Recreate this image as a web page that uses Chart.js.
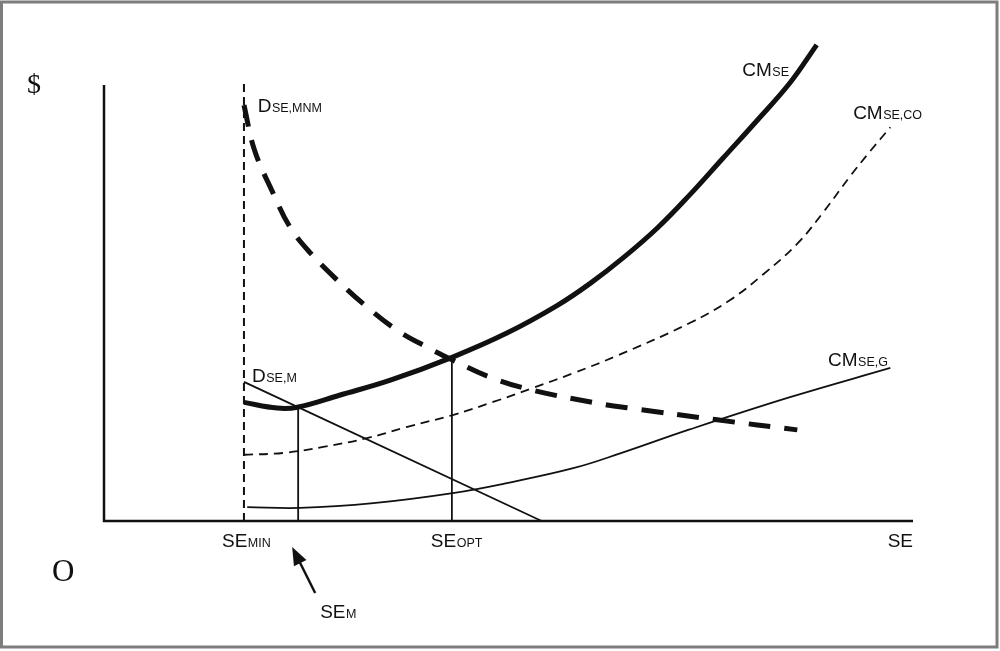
<!DOCTYPE html>
<html>
<head>
<meta charset="utf-8">
<script src="https://cdn.jsdelivr.net/npm/chart.js@4.4.1/dist/chart.umd.min.js"></script>
<style>
html, body { margin: 0; padding: 0; background: #fff; }
</style>
</head>
<body>
<canvas id="myChart" width="1000" height="651"></canvas>
<script>
// curves, x and y in 0..100 axis units
const cmSeX = [17.3, 21.4, 23.9, 29.2, 35.4, 43.1, 49.8, 56.0, 60.1, 64.2, 68.4, 72.4, 76.5, 80.7, 84.8, 88.1];
const cmSeY = [27.2, 25.9, 26.1, 28.9, 32.3, 37.6, 43.1, 49.4, 54.5, 60.4, 67.2, 74.8, 83.2, 91.8, 100.5, 109.2];

const cmCoX = [17.3, 22.1, 27.1, 32.5, 37.5, 43.1, 48.1, 53.0, 58.0, 63.4, 72.4, 77.4, 81.5, 85.7, 88.9, 92.2, 94.7, 97.2];
const cmCoY = [15.2, 15.6, 17.0, 19.0, 21.6, 24.3, 27.3, 30.5, 33.9, 37.9, 45.4, 50.7, 56.6, 63.6, 70.8, 79.0, 84.8, 90.3];

const cmGX = [17.7, 24.2, 33.3, 43.1, 49.8, 58.0, 63.8, 72.4, 84.8, 97.2];
const cmGY = [3.2, 3.0, 4.1, 6.4, 8.7, 12.1, 15.5, 21.0, 28.4, 35.1];

const dMnmX = [17.3, 18.6, 20.9, 23.0, 25.5, 28.8, 32.5, 36.2, 39.9, 43.1, 47.7, 53.0, 62.2, 65.0, 75.8, 85.7];
const dMnmY = [95.4, 85.1, 75.2, 67.4, 61.5, 55.3, 49.1, 43.8, 39.9, 36.9, 33.0, 30.0, 26.6, 25.9, 23.2, 20.9];

const dMX = [17.3, 54.1];
const dMY = [31.9, 0];

// marked points on the SE axis
const seMin = 17.3;
const seM = 24.0;
const seOpt = 43.0;
const seMinTop = 100.7;
const seMTop = 26.2;
const seOptTop = 37.7;

const pts = (xs, ys) => xs.map((x, i) => ({x: x, y: ys[i]}));

const labels = {
    id: 'labels',
    beforeDatasetsDraw(chart) {
        const {ctx, chartArea: {left, right, top, bottom}} = chart;
        ctx.save();
        ctx.strokeStyle = '#7d7d7d';
        ctx.lineWidth = 3;
        ctx.strokeRect(1.5, 2, 995.5, 645);
        ctx.strokeStyle = '#111';
        ctx.lineWidth = 2.5;
        ctx.beginPath();
        ctx.moveTo(left, top);
        ctx.lineTo(left, bottom);
        ctx.lineTo(right, bottom);
        ctx.stroke();
        ctx.restore();
    },
    afterDatasetsDraw(chart) {
        const {ctx, scales: {x, y}, chartArea: {bottom, right}} = chart;
        ctx.save();
        ctx.fillStyle = '#111';
        ctx.textBaseline = 'alphabetic';
        function sub(px, py, main, small) {
            ctx.font = '19px "Liberation Sans", Arial, sans-serif';
            ctx.fillText(main, px, py);
            const w = ctx.measureText(main).width;
            ctx.font = '12.5px "Liberation Sans", Arial, sans-serif';
            ctx.fillText(small, px + w + 0.5, py);
        }
        sub(x.getPixelForValue(19.0), y.getPixelForValue(93.8), 'D', 'SE,MNM');
        sub(x.getPixelForValue(78.9), y.getPixelForValue(102.1), 'CM', 'SE');
        sub(x.getPixelForValue(92.6), y.getPixelForValue(92.2), 'CM', 'SE,CO');
        sub(x.getPixelForValue(89.5), y.getPixelForValue(35.6), 'CM', 'SE,G');
        sub(x.getPixelForValue(18.3), y.getPixelForValue(31.9), 'D', 'SE,M');

        sub(x.getPixelForValue(seMin) - 22, bottom + 26, 'SE', 'MIN');
        sub(x.getPixelForValue(seOpt) - 21, bottom + 26, 'SE', 'OPT');
        sub(x.getPixelForValue(seM) + 22, bottom + 97, 'SE', 'M');
        ctx.font = '19px "Liberation Sans", Arial, sans-serif';
        ctx.textAlign = 'right';
        ctx.fillText('SE', right, bottom + 26);
        ctx.textAlign = 'left';

        ctx.font = '28px "Liberation Serif", "Times New Roman", serif';
        ctx.fillText('$', 27, 93);
        ctx.font = '31px "Liberation Serif", "Times New Roman", serif';
        ctx.fillText('O', 52, 581);

        // arrow to SE_M
        const tx = x.getPixelForValue(seM) - 6, ty = bottom + 26;
        const sx = tx + 23, sy = ty + 46;
        const a = Math.atan2(ty - sy, tx - sx);
        ctx.strokeStyle = '#111';
        ctx.lineWidth = 2.5;
        ctx.beginPath();
        ctx.moveTo(sx, sy);
        ctx.lineTo(tx - 12 * Math.cos(a), ty - 12 * Math.sin(a));
        ctx.stroke();
        ctx.beginPath();
        ctx.moveTo(tx, ty);
        ctx.lineTo(tx - 18 * Math.cos(a) + 7 * Math.sin(a), ty - 18 * Math.sin(a) - 7 * Math.cos(a));
        ctx.lineTo(tx - 18 * Math.cos(a) - 7 * Math.sin(a), ty - 18 * Math.sin(a) + 7 * Math.cos(a));
        ctx.closePath();
        ctx.fill();
        ctx.restore();
    }
};

new Chart(document.getElementById('myChart').getContext('2d'), {
    type: 'scatter',
    data: {
        datasets: [
            {
                data: [{x: seMin, y: 0}, {x: seMin, y: seMinTop}],
                borderColor: '#111', borderWidth: 2, borderDash: [8, 5], tension: 0
            },
            {
                data: [{x: seM, y: 0}, {x: seM, y: seMTop}],
                borderColor: '#111', borderWidth: 1.8, tension: 0
            },
            {
                data: [{x: seOpt, y: 0}, {x: seOpt, y: seOptTop}],
                borderColor: '#111', borderWidth: 1.8, tension: 0
            },
            {
                data: pts(dMX, dMY),
                borderColor: '#111', borderWidth: 1.8, tension: 0
            },
            {
                data: pts(cmGX, cmGY),
                borderColor: '#111', borderWidth: 1.8, tension: 0.4
            },
            {
                data: pts(cmCoX, cmCoY),
                borderColor: '#111', borderWidth: 1.8, borderDash: [9, 6], tension: 0.4
            },
            {
                data: pts(dMnmX, dMnmY),
                borderColor: '#111', borderWidth: 5, borderDash: [22, 14], tension: 0.4
            },
            {
                data: pts(cmSeX, cmSeY),
                borderColor: '#111', borderWidth: 5, tension: 0.4
            }
        ]
    },
    options: {
        responsive: false,
        animation: false,
        showLine: true,
        layout: {
            padding: {left: 104, right: 87, top: 85, bottom: 130}
        },
        elements: {
            point: {radius: 0, hoverRadius: 0}
        },
        datasets: {
            scatter: {clip: false}
        },
        plugins: {
            legend: {display: false},
            tooltip: {enabled: false}
        },
        scales: {
            x: {type: 'linear', min: 0, max: 100, display: false},
            y: {type: 'linear', min: 0, max: 100, display: false}
        }
    },
    plugins: [labels]
});
</script>
</body>
</html>
